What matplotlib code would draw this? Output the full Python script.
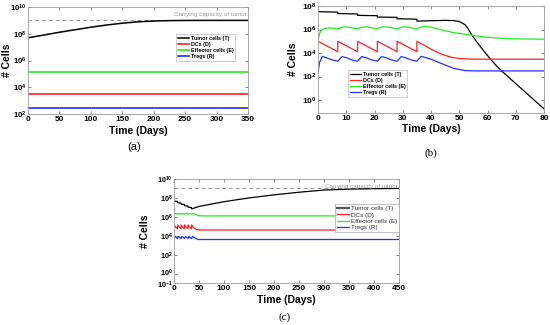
import numpy as np
import matplotlib
matplotlib.use("Agg")
import matplotlib.pyplot as plt
import matplotlib.transforms as mtransforms
from matplotlib.ticker import FixedLocator, FuncFormatter, NullLocator

plt.rcParams['font.family'] = ['Liberation Sans', 'DejaVu Sans']
plt.rcParams['mathtext.fontset'] = 'custom'
plt.rcParams['mathtext.rm'] = 'Liberation Sans'
plt.rcParams['mathtext.bf'] = 'Liberation Sans:bold'

K_tumor = 1e9
labels = ['Tumor cells (T)', 'DCs (D)', 'Effector cells (E)', 'Tregs (R)']

# ---- panel (a): no treatment
ta_T = [0, 25, 50, 75, 100, 125, 150, 175, 200, 225, 250, 300, 350]
a_T = [5e7, 8e7, 1.3e8, 2.0e8, 3.1e8, 4.5e8, 6.2e8, 7.8e8, 9.0e8, 9.6e8, 9.9e8, 1e9, 1e9]
ta_const = [0, 350]
a_D = [3e3, 3e3]
a_E = [1.3e5, 1.3e5]
a_R = [3e2, 3e2]

# ---- panel (b): weekly doses
tb_T = [0, 7, 7, 14, 14, 21, 21, 28, 28, 35, 35, 40, 45, 48, 50, 52, 53, 54, 55,
        57, 59, 61, 63, 65, 70, 75, 80]
b_T = [3.3e7, 3.0e7, 2.3e7, 2.1e7, 1.6e7, 1.5e7, 1.15e7, 1.08e7, 8.2e6, 7.6e6, 5.2e6,
       5.6e6, 6.0e6, 5.8e6, 4.8e6, 2.6e6, 1.3e6, 5e5, 2.2e5, 5e4, 1.2e4, 3.2e3, 9e2,
       3e2, 2.5e1, 2.1, 0.18]
tb_D = [0, 3.5, 7, 7, 10.5, 14, 14, 17.5, 21, 21, 24.5, 28, 28, 31.5, 35, 35,
        38, 41, 44, 47, 50, 55, 80]
b_D = [1e5, 3.6e4, 1.3e4, 1e5, 3.6e4, 1.3e4, 1e5, 3.6e4, 1.3e4, 1e5, 3.6e4, 1.3e4,
       1e5, 3.6e4, 1.3e4, 1e5, 4e4, 1.6e4, 7.5e3, 4.5e3, 3.4e3, 3.0e3, 3e3]
tb_E = [0, 0.5, 1, 2, 4, 7, 8.5, 10, 14, 15.5, 17, 21, 22.5, 24, 28, 29.5, 31,
        35, 36.5, 38, 40, 44, 48, 52, 56, 60, 65, 70, 80]
b_E = [1e5, 4e5, 8e5, 1.2e6, 1.4e6, 1.1e6, 1.6e6, 1.7e6, 1.15e6, 1.6e6, 1.7e6, 1.15e6,
       1.6e6, 1.7e6, 1.15e6, 1.6e6, 1.7e6, 1.15e6, 1.65e6, 1.8e6, 1.6e6, 9e5, 5.5e5,
       4e5, 2.9e5, 2.2e5, 1.8e5, 1.6e5, 1.5e5]
tb_R = [0, 0.5, 1.5, 3, 5, 7, 8.5, 10, 12, 14, 15.5, 17, 19, 21, 22.5, 24, 26, 28,
        29.5, 31, 33, 35, 36.5, 40, 44, 48, 52, 56, 80]
b_R = [2e2, 1.5e3, 5e3, 4e3, 2.6e3, 2e3, 5e3, 4e3, 2.6e3, 2e3, 5e3, 4e3, 2.6e3, 2e3,
       5e3, 4e3, 2.6e3, 2e3, 5e3, 4e3, 2.6e3, 2e3, 5.2e3, 3e3, 1.2e3, 5e2, 3.2e2,
       3e2, 3e2]

# ---- panel (c): treatment stopped
tc_T = [0, 7, 7, 14, 14, 21, 21, 28, 28, 35, 35, 37, 50, 100, 150, 200, 250, 300,
        350, 400, 450]
c_T = [4.7e7, 4.2e7, 3.2e7, 2.9e7, 2.2e7, 2.0e7, 1.5e7, 1.35e7, 1.05e7, 9.5e6, 7.2e6,
       7.4e6, 1.25e7, 4e7, 1e8, 2.1e8, 4e8, 6.8e8, 8.5e8, 9.5e8, 1e9]
tc_D = [0, 3.5, 7, 7, 10.5, 14, 14, 17.5, 21, 21, 24.5, 28, 28, 31.5, 35, 35,
        40, 45, 50, 450]
c_D = [1.4e5, 8e4, 5.5e4, 1.4e5, 8e4, 5.5e4, 1.4e5, 8e4, 5.5e4, 1.4e5, 8e4, 5.5e4,
       1.4e5, 8e4, 5.5e4, 1.4e5, 6.5e4, 4.5e4, 4e4, 4e4]
tc_E = [0, 3.5, 7, 10.5, 14, 17.5, 21, 24.5, 28, 31.5, 35, 38.5, 42, 46, 50, 55, 450]
c_E = [2.0e6, 2.3e6, 1.9e6, 2.3e6, 1.9e6, 2.3e6, 1.9e6, 2.3e6, 1.9e6, 2.3e6, 1.9e6,
       2.3e6, 1.9e6, 1.5e6, 1.3e6, 1.25e6, 1.25e6]
tc_R = [0, 2, 7, 9, 14, 16, 21, 23, 28, 30, 35, 37, 42, 48, 450]
c_R = [6e3, 8.5e3, 5e3, 8.5e3, 5e3, 8.5e3, 5e3, 8.5e3, 5e3, 8.5e3, 5e3, 8.5e3,
       5.5e3, 4e3, 4e3]

COL = {'T': 'k', 'D': '#ff2020', 'E': '#22ee22', 'R': '#2030ff'}


def logfmt(v, pos):
    return r'$\mathbf{10^{%d}}$' % int(round(np.log10(v)))


def style_axes(ax, xticks, yexp, ylim, xlim, ylab_x, ysize=6):
    ax.set_yscale('log')
    ax.set_xlim(*xlim)
    ax.set_ylim(*ylim)
    ax.xaxis.set_major_locator(FixedLocator(xticks))
    ax.yaxis.set_major_locator(FixedLocator([10.0 ** e for e in yexp]))
    ax.yaxis.set_minor_locator(NullLocator())
    ax.yaxis.set_major_formatter(FuncFormatter(logfmt))
    ax.tick_params(direction='in', length=2, width=0.5, labelsize=6, pad=1.5,
                   top=True, right=True, colors='#555555', labelcolor='black')
    ax.tick_params(axis='y', labelsize=ysize, pad=1)
    for lb in ax.get_xticklabels():
        lb.set_fontweight('bold')
    for s in ax.spines.values():
        s.set_color('#999999')
        s.set_linewidth(0.6)
    ax.set_xlabel('Time (Days)', fontsize=7.5, fontweight='bold', labelpad=2)
    ax.set_ylabel('# Cells', fontsize=7.5, fontweight='bold')
    ax.yaxis.set_label_coords(ylab_x, 0.5)


def small_legend(ax, anchor):
    lg = ax.legend(loc='upper left', bbox_to_anchor=anchor, frameon=True,
                   fancybox=False, edgecolor='#aaaaaa', borderpad=0.35,
                   labelspacing=0.2, handlelength=2.0, handletextpad=0.35,
                   borderaxespad=0, prop={'weight': 'bold', 'size': 3.9})
    lg.get_frame().set_linewidth(0.5)
    return lg


fig = plt.figure(figsize=(5.5, 3.25), dpi=100)

# (a)
ax = fig.add_axes([0.0509, 0.6492, 0.40, 0.3292])
ax.axhline(K_tumor, color='#999999', ls='--', lw=0.7, dashes=(4, 3))
ax.plot(ta_T, a_T, color=COL['T'], lw=1.1, label=labels[0])
ax.plot(ta_const, a_D, color=COL['D'], lw=1.2, label=labels[1])
ax.plot(ta_const, a_E, color=COL['E'], lw=1.2, label=labels[2])
ax.plot(ta_const, a_R, color=COL['R'], lw=1.2, label=labels[3])
ax.text(0.995, 0.905, 'Carrying capacity of tumor', transform=ax.transAxes,
        ha='right', va='bottom', fontsize=4.5, color='#999999')
style_axes(ax, range(0, 351, 50), [2, 4, 6, 8, 10], (1e2, 1e10), (0, 350), -0.072,
           ysize=5.6)
small_legend(ax, (0.673, 0.75))

# (b)
ax = fig.add_axes([0.5782, 0.6538, 0.4109, 0.3277])
ax.plot(tb_T, b_T, color=COL['T'], lw=0.9, label=labels[0])
ax.plot(tb_D, b_D, color=COL['D'], lw=0.9, label=labels[1])
ax.plot(tb_E, b_E, color=COL['E'], lw=0.9, label=labels[2])
ax.plot(tb_R, b_R, color=COL['R'], lw=0.9, label=labels[3])
style_axes(ax, range(0, 81, 10), [0, 2, 4, 6, 8], (10 ** -1.06, 1e8), (0, 80), -0.09)
small_legend(ax, (0.133, 0.40))

# (c)
ax = fig.add_axes([0.3164, 0.1292, 0.4091, 0.32])
ax.axhline(K_tumor, color='#999999', ls='--', lw=0.7, dashes=(4, 3))
ax.plot(tc_T, c_T, color=COL['T'], lw=0.9, label=labels[0])
ax.plot(tc_D, c_D, color=COL['D'], lw=0.9, label=labels[1])
ax.plot(tc_E, c_E, color=COL['E'], lw=0.9, label=labels[2])
ax.plot(tc_R, c_R, color=COL['R'], lw=0.9, label=labels[3])
ax.text(0.995, 0.905, 'Carrying capacity of tumor', transform=ax.transAxes,
        ha='right', va='bottom', fontsize=4.5, color='#999999')
style_axes(ax, range(0, 451, 50), [-1, 0, 2, 4, 6, 8, 10], (1e-1, 1e10), (0, 450),
           -0.105, ysize=5.2)
# nudge the two bottom tick labels apart
fig.canvas.draw()
ylabs = ax.get_yticklabels()
ylabs[0].set_transform(ylabs[0].get_transform() +
                       mtransforms.ScaledTranslation(0, -1.5 / 100, fig.dpi_scale_trans))
ylabs[1].set_transform(ylabs[1].get_transform() +
                       mtransforms.ScaledTranslation(0, 1.5 / 100, fig.dpi_scale_trans))
lg = ax.legend(loc='upper right', bbox_to_anchor=(1.0, 0.76), frameon=True,
               fancybox=False, edgecolor='#aaaaaa', borderpad=0.3,
               labelspacing=0.12, handlelength=1.8, handletextpad=0.3,
               borderaxespad=0, framealpha=1, prop={'size': 4.6})
lg.get_frame().set_linewidth(0.5)
for t in lg.get_texts():
    t.set_color('#333333')
lg.get_lines()[0].set_color('#555555')
lg.get_lines()[0].set_linewidth(1.6)

fig.text(134 / 550, 1 - 147 / 325, '(a)', ha='center', va='center', fontsize=8)
fig.text(431 / 550, 1 - 153 / 325, '(b)', ha='center', va='center', fontsize=8,
         family='Liberation Serif')
fig.text(285 / 550, 1 - 317 / 325, '(c)', ha='center', va='center', fontsize=8,
         family='Liberation Serif')

fig.savefig('out.png', dpi=100)
